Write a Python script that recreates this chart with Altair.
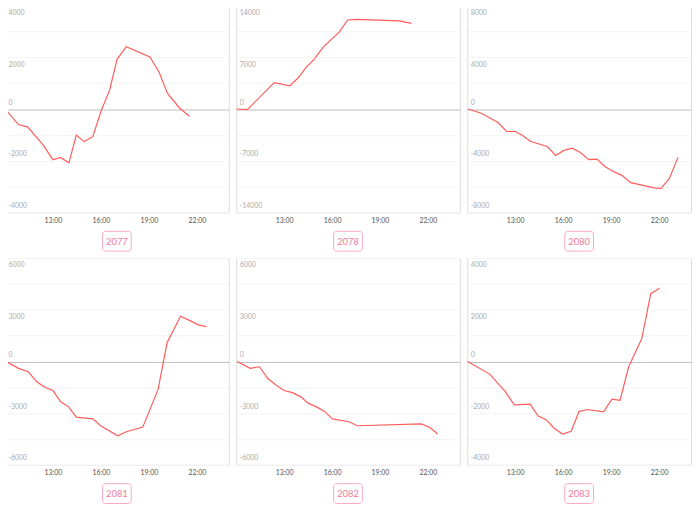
import altair as alt
import pandas as pd

names = ["2077", "2078", "2080", "2081", "2082", "2083"]
limits = [4000, 14000, 8000, 6000, 6000, 4000]

hours_2077 = [10.0, 10.84, 11.42, 12.38, 13.0, 13.47, 14.0, 14.46, 14.95, 15.49, 16.05, 16.54, 17.01, 17.59, 19.07, 19.65, 20.16, 20.92, 21.54]
vals_2077 = [0, -600, -700, -1390, -1960, -1870, -2080, -1010, -1260, -1070, -10, 710, 1920, 2410, 2010, 1410, 610, 40, -280]

hours_2078 = [10.0, 10.70, 12.38, 13.35, 13.87, 14.39, 14.91, 15.43, 16.46, 16.98, 17.50, 20.2, 20.97]
vals_2078 = [0, -90, 3570, 3125, 4200, 5670, 6790, 8350, 10450, 12050, 12140, 11920, 11600]

hours_2080 = [10.04, 10.87, 11.90, 12.46, 12.98, 13.46, 13.97, 15.01, 15.53, 16.04, 16.56, 17.08, 17.60, 18.11, 18.63, 19.11, 19.67, 20.23, 21.63, 22.11, 22.63, 23.19]
vals_2080 = [0, -330, -1030, -1740, -1720, -2050, -2510, -2900, -3590, -3200, -3030, -3360, -3920, -3870, -4460, -4820, -5130, -5690, -6080, -6150, -5410, -3740]

hours_2081 = [10.06, 10.84, 11.46, 11.97, 12.49, 13.0, 13.47, 13.99, 14.46, 15.51, 15.98, 17.05, 17.59, 18.62, 19.58, 20.14, 20.98, 21.54, 22.09, 22.61]
vals_2081 = [0, -400, -600, -1170, -1500, -1690, -2330, -2650, -3230, -3330, -3730, -4310, -4080, -3810, -1620, 1080, 2620, 2380, 2120, 2020]

hours_2082 = [10.06, 10.88, 11.46, 11.97, 12.49, 13.0, 13.51, 14.03, 14.50, 15.06, 15.53, 16.02, 17.05, 17.59, 21.58, 22.12, 22.61]
vals_2082 = [0, -400, -310, -980, -1370, -1690, -1810, -2040, -2420, -2650, -2900, -3330, -3500, -3730, -3620, -3830, -4210]

hours_2083 = [10.02, 11.40, 12.38, 12.94, 13.93, 14.42, 14.95, 15.47, 15.96, 16.50, 16.99, 17.53, 18.53, 19.05, 19.56, 20.10, 20.92, 21.48, 22.03]
vals_2083 = [0, -490, -1170, -1680, -1650, -2100, -2260, -2600, -2810, -2700, -1940, -1860, -1950, -1460, -1500, -205, 885, 2620, 2830]

x_ticks = [13, 16, 19, 22]

series = [
    (hours_2077, vals_2077),
    (hours_2078, vals_2078),
    (hours_2080, vals_2080),
    (hours_2081, vals_2081),
    (hours_2082, vals_2082),
    (hours_2083, vals_2083),
]

W, H = 226, 209
LINE = "#ff5c5c"
PINK_TEXT = "#ef7a9c"
PINK_BORDER = "#f6a9c0"


def panel(name, hours, vals, m):
    df = pd.DataFrame({"h": hours, "v": vals})
    step = m / 4
    ticks = [-m + i * step for i in range(9)]
    half = int(m / 2)
    x = alt.X(
        "h:Q",
        scale=alt.Scale(domain=[10, 24], nice=False, zero=False),
        axis=alt.Axis(
            values=x_ticks,
            labelExpr="datum.value + ':00'",
            grid=False,
            domain=False,
            ticks=False,
            tickSize=0,
            labelFontSize=7,
            labelColor="#555555",
            labelPadding=4,
            labelFlush=False,
            labelFont="Lato",
            title=None,
        ),
    )
    y = alt.Y(
        "v:Q",
        scale=alt.Scale(domain=[-m, m], nice=False, zero=False),
        axis=alt.Axis(
            values=ticks,
            labelExpr=f"datum.value % {half} == 0 ? '' + datum.value : ''",
            grid=True,
            gridColor={"condition": {"test": "datum.value == 0", "value": "#bdbdbd"}, "value": "#f3f3f3"},
            gridWidth=1,
            domain=False,
            ticks=False,
            tickSize=0,
            labelAlign="left",
            labelBaseline="middle",
            labelPadding=-3,
            labelOffset={"condition": {"test": "datum.value > 0", "value": 7}, "value": -7},
            labelFlush=False,
            labelFontSize=7,
            labelColor="#aaaaaa",
            labelFont="Lato",
            title=None,
        ),
    )
    line = alt.Chart(df).mark_line(color=LINE, strokeWidth=1.2, clip=True).encode(x=x, y=y)
    lab = pd.DataFrame({"n": [name]})
    box = alt.Chart(lab).mark_rect(
        fill="white", stroke=PINK_BORDER, strokeWidth=1, cornerRadius=3
    ).encode(
        x=alt.value(W / 2 - 14.5), x2=alt.value(W / 2 + 14.5),
        y=alt.value(228), y2=alt.value(248),
    )
    txt = alt.Chart(lab).mark_text(
        color=PINK_TEXT, fontSize=9.5, font="Lato"
    ).encode(
        text="n:N", x=alt.value(W / 2), y=alt.value(238.5)
    )
    return alt.layer(line, box, txt).properties(width=W, height=H)


panels = [panel(n, s[0], s[1], m) for n, s, m in zip(names, series, limits)]

chart = alt.ConcatChart(
    concat=panels,
    columns=3,
    spacing={"row": 46, "column": 7.5},
    bounds="flush",
).properties(
    padding={"left": -4, "top": -6, "right": 0, "bottom": 0}
).configure_view(stroke="#dddddd", strokeWidth=1)

chart.save("out.html", embed_options={"renderer": "svg", "actions": False})
